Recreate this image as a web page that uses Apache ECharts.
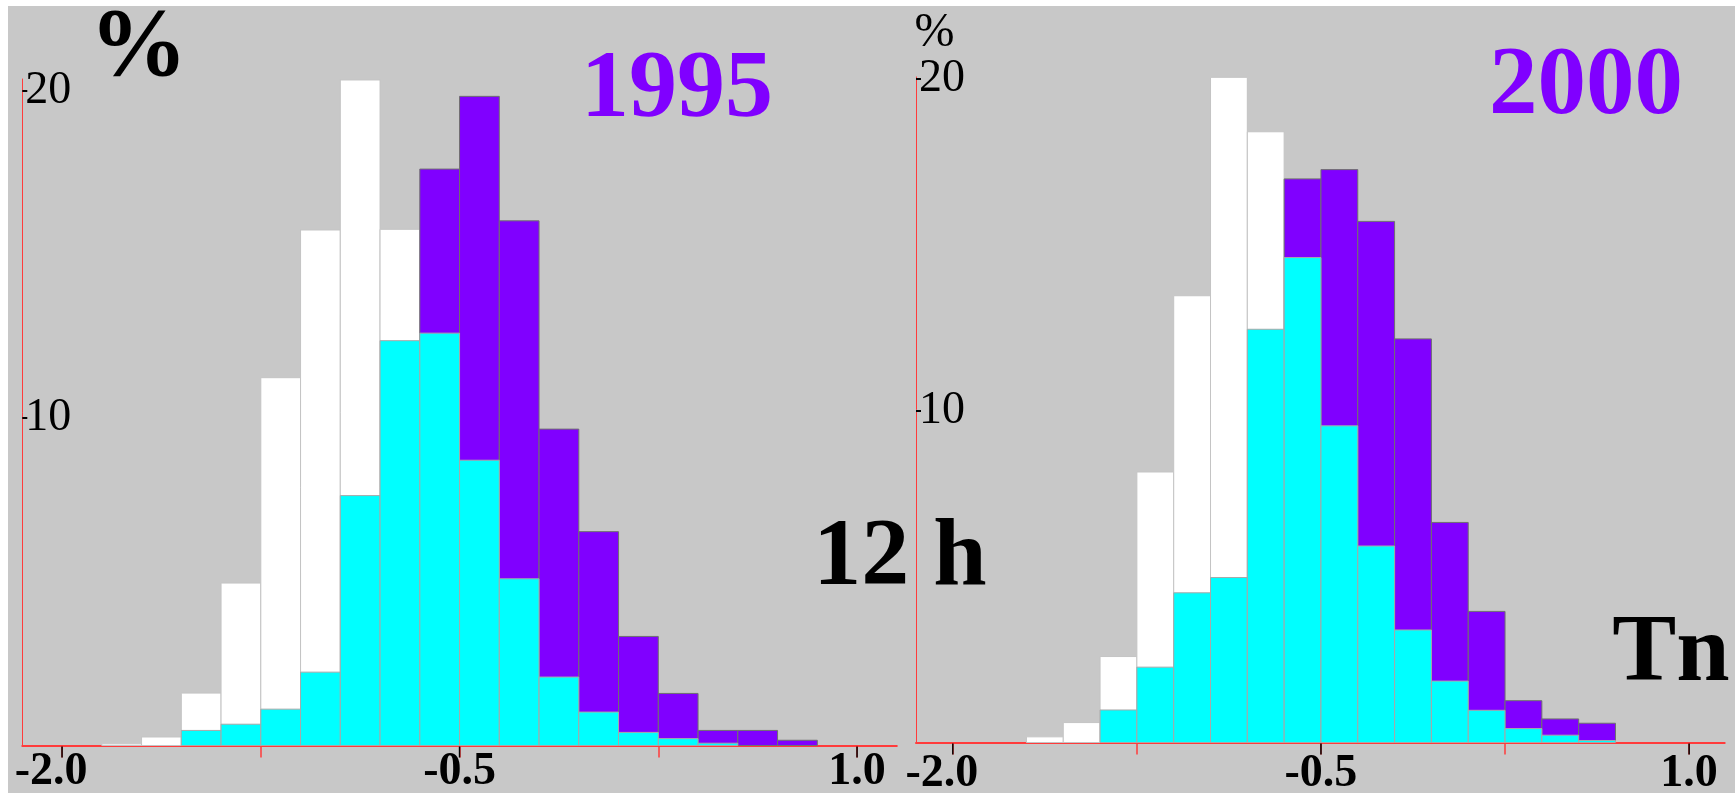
<!DOCTYPE html>
<html>
<head>
<meta charset="utf-8">
<script src="https://cdn.jsdelivr.net/npm/echarts/dist/echarts.min.js"></script>
<style>
  html, body { margin: 0; padding: 0; background: #fff; }
  #chart { width: 1735px; height: 793px; }
</style>
</head>
<body>
<div id="chart"></div>
<script>
// bin width of the histograms
const binWidth = 0.15
// bins starting at or after this value are drawn purple, earlier ones white
const splitAt = -0.65

// 1995: left edges of bins, total share (%), cyan share (%)
const edges1995 = [-1.85, -1.70, -1.55, -1.40, -1.25, -1.10, -0.95, -0.80, -0.65, -0.50, -0.35, -0.20, -0.05, 0.10, 0.25, 0.40, 0.55, 0.70]
const total1995 = [0.05, 0.26, 1.60, 4.96, 11.23, 15.74, 20.32, 15.76, 17.60, 19.82, 16.02, 9.66, 6.53, 3.33, 1.59, 0.46, 0.46, 0.16]
const cyan1995 = [0, 0, 0.46, 0.65, 1.11, 2.24, 7.63, 12.36, 12.59, 8.71, 5.09, 2.09, 1.02, 0.40, 0.21, 0.07, 0, 0]

// 2000
const edges2000 = [-1.70, -1.55, -1.40, -1.25, -1.10, -0.95, -0.80, -0.65, -0.50, -0.35, -0.20, -0.05, 0.10, 0.25, 0.40, 0.55]
const total2000 = [0.17, 0.60, 2.59, 8.15, 13.46, 20.04, 18.40, 16.98, 17.26, 15.70, 12.16, 6.63, 3.95, 1.26, 0.71, 0.58]
const cyan2000 = [0, 0, 0.98, 2.27, 4.51, 4.97, 12.45, 14.61, 9.54, 5.92, 3.39, 1.85, 0.97, 0.42, 0.22, 0.06]

// axis ticks
const xTicks = [-2.0, -1.25, -0.5, 0.25, 1.0]
const xLabels = [-2.0, -0.5, 1.0]
const yTicks = [10, 20]

const serif = 'Liberation Serif'
const red = '#ff3b3b'

// [x0, x1, value] for each bin
function toBins(edges, values) {
  return edges.map((e, i) => [e, e + binWidth, values[i]])
}

function barItem(fillFn, strokeFn) {
  return function (params, api) {
    const x0 = api.value(0)
    const x1 = api.value(1)
    const v = api.value(2)
    if (!v) return null
    const p0 = api.coord([x0, v])
    const p1 = api.coord([x1, 0])
    return {
      type: 'rect',
      shape: { x: p0[0], y: p0[1], width: p1[0] - p0[0], height: p1[1] - p0[1] },
      style: { fill: fillFn(x0), stroke: strokeFn(x0), lineWidth: 1 }
    }
  }
}

const backFill = x0 => (x0 >= splitAt - 1e-9 ? '#8000ff' : '#ffffff')
const backStroke = x0 => (x0 >= splitAt - 1e-9 ? '#707070' : '#c4c4c4')

function xAxis(gridIndex, min, max) {
  return {
    gridIndex, type: 'value', min, max, position: 'bottom',
    axisLine: { show: true, onZero: false, lineStyle: { color: red, width: 2 } },
    axisTick: { show: true, customValues: xTicks, length: 12, lineStyle: { color: red, width: 1.5 } },
    // labels are drawn below as graphic texts at the axis' own pixel positions
    axisLabel: { show: false },
    splitLine: { show: false }
  }
}

function yAxis(gridIndex, max) {
  return {
    gridIndex, type: 'value', min: 0, max,
    axisLine: { show: true, onZero: false, lineStyle: { color: red, width: 1 } },
    axisTick: { show: true, inside: true, customValues: yTicks, length: 5, lineStyle: { color: '#000', width: 2 } },
    axisLabel: {
      show: true, inside: true, customValues: yTicks, margin: 3,
      color: '#000', fontFamily: serif, fontSize: 46
    },
    splitLine: { show: false }
  }
}

function label(text, x, y, size, opts) {
  return {
    type: 'text', x, y, z: 10,
    style: Object.assign({
      text,
      font: 'bold ' + size + 'px "' + serif + '"',
      fill: '#000',
      align: 'center',
      verticalAlign: 'middle'
    }, opts || {})
  }
}

const baseGraphic = [
  // white page margins
  { type: 'rect', shape: { x: 0, y: 0, width: 1735, height: 6 }, style: { fill: '#fff' } },
  { type: 'rect', shape: { x: 0, y: 0, width: 8, height: 793 }, style: { fill: '#fff' } },
  label('%', 138.5, 50, 98),
  label('1995', 677, 91, 96, { fill: '#8000ff' }),
  label('12 h', 900, 559, 96),
  label('%', 934.5, 33.5, 48, { font: '48px "' + serif + '"' }),
  label('2000', 1586, 88, 97, { fill: '#8000ff' }),
  label('Tn', 1671, 655, 96)
]

const chart = echarts.init(document.getElementById('chart'))
chart.setOption({
  animation: false,
  backgroundColor: '#c8c8c8',
  grid: [
    { left: 22.3, top: 79, width: 874.5, height: 666.5 },
    { left: 916, top: 77, width: 808.7, height: 665.5 }
  ],
  xAxis: [xAxis(0, -2.15, 1.15), xAxis(1, -2.15, 1.145)],
  yAxis: [yAxis(0, 20.35), yAxis(1, 20.05)],
  series: [
    {
      type: 'custom', xAxisIndex: 0, yAxisIndex: 0,
      data: toBins(edges1995, total1995),
      encode: { x: [0, 1], y: 2 },
      renderItem: barItem(backFill, backStroke)
    },
    {
      type: 'custom', xAxisIndex: 0, yAxisIndex: 0,
      data: toBins(edges1995, cyan1995),
      encode: { x: [0, 1], y: 2 },
      renderItem: barItem(() => '#00ffff', () => '#a8a8a8')
    },
    {
      type: 'custom', xAxisIndex: 1, yAxisIndex: 1,
      data: toBins(edges2000, total2000),
      encode: { x: [0, 1], y: 2 },
      renderItem: barItem(backFill, backStroke)
    },
    {
      type: 'custom', xAxisIndex: 1, yAxisIndex: 1,
      data: toBins(edges2000, cyan2000),
      encode: { x: [0, 1], y: 2 },
      renderItem: barItem(() => '#00ffff', () => '#a8a8a8')
    }
  ],
  graphic: baseGraphic
})

// x tick labels with black ticks, placed by the axes' own scales
// (the first label sits a little left of its tick in the original)
const labelShift = [-11, 0, 0]
function tickLabels(axisIndex, dy) {
  const y0 = chart.convertToPixel({ yAxisIndex: axisIndex }, 0)
  const out = []
  xLabels.forEach((v, i) => {
    const x = chart.convertToPixel({ xAxisIndex: axisIndex }, v)
    out.push({
      type: 'line', z: 5,
      shape: { x1: x, y1: y0 + 1, x2: x, y2: y0 + 12 },
      style: { stroke: '#000', lineWidth: 1.5 }
    })
    out.push({
      type: 'text', x: x + labelShift[i], y: y0 + dy, z: 10,
      style: {
        text: v.toFixed(1),
        font: 'bold 46px "' + serif + '"',
        fill: '#000', align: 'center', verticalAlign: 'middle'
      }
    })
  })
  return out
}

chart.setOption({ graphic: baseGraphic.concat(tickLabels(0, 26.5), tickLabels(1, 32)) })
window.addEventListener('resize', chart.resize)
</script>
</body>
</html>
